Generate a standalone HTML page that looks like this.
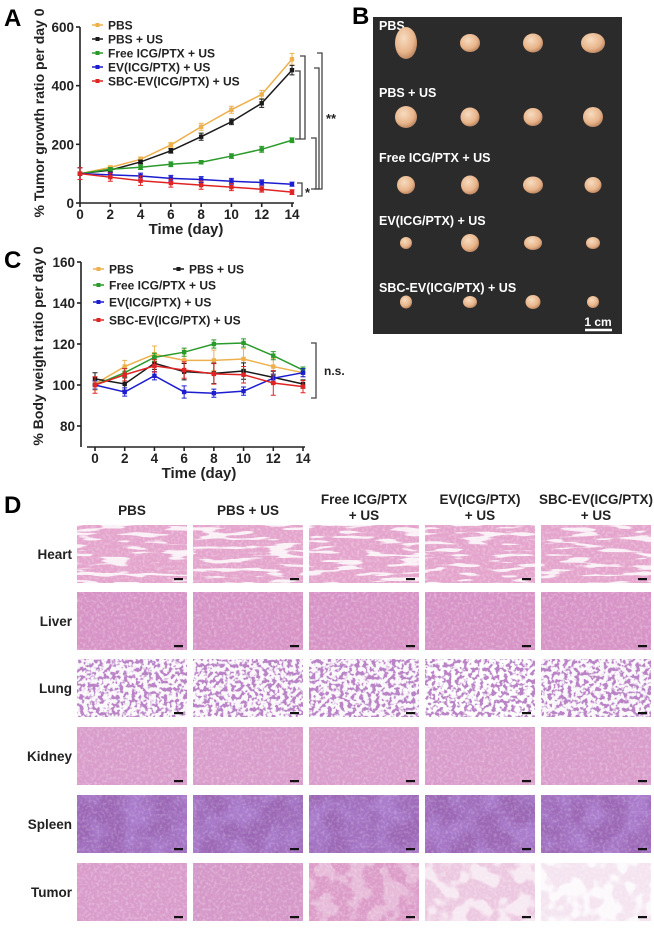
<!DOCTYPE html>
<html><head><meta charset="utf-8">
<style>
body{margin:0;background:#fff;width:654px;height:926px;overflow:hidden;font-family:"Liberation Sans",Arial,sans-serif;}
svg text{font-family:"Liberation Sans",Arial,sans-serif;font-weight:bold;}
</style></head>
<body>
<svg id="fig" width="654" height="926" viewBox="0 0 654 926" xmlns="http://www.w3.org/2000/svg">
<defs>
<filter id="tex" x="0" y="0" width="100%" height="100%">
<feTurbulence type="fractalNoise" baseFrequency="0.35" numOctaves="2" seed="3"/>
<feColorMatrix type="matrix" values="0 0 0 0 1  0 0 0 0 1  0 0 0 0 1  0 0 0 -2.2 1.25"/>
</filter>
<filter id="streak" x="0" y="0" width="100%" height="100%">
<feTurbulence type="fractalNoise" baseFrequency="0.03 0.22" numOctaves="2" seed="11"/>
<feColorMatrix type="matrix" values="0 0 0 0 1  0 0 0 0 1  0 0 0 0 1  0 0 0 -14 6.2"/>
</filter>
<filter id="lungtex" x="0" y="0" width="100%" height="100%">
<feTurbulence type="fractalNoise" baseFrequency="0.25" numOctaves="2" seed="7"/>
<feColorMatrix type="matrix" values="0 0 0 0 1  0 0 0 0 1  0 0 0 0 1  0 0 0 -7 4.3"/>
</filter>
<filter id="spltex" x="0" y="0" width="100%" height="100%">
<feTurbulence type="fractalNoise" baseFrequency="0.04" numOctaves="2" seed="5"/>
<feColorMatrix type="matrix" values="0 0 0 0 0.4  0 0 0 0 0.2  0 0 0 0 0.6  0 0 0 -3 1.9"/>
</filter>
<filter id="tumtex" x="0" y="0" width="100%" height="100%">
<feTurbulence type="fractalNoise" baseFrequency="0.06" numOctaves="2" seed="9"/>
<feColorMatrix type="matrix" values="0 0 0 0 1  0 0 0 0 1  0 0 0 0 1  0 0 0 -8 4.3"/>
</filter>
<radialGradient id="tumorGrad" cx="40%" cy="35%" r="65%">
<stop offset="0" stop-color="#f6dcc0"/><stop offset="0.7" stop-color="#e8b48a"/><stop offset="1" stop-color="#c08a64"/>
</radialGradient>
</defs>
<g id="panelA"></g>
<g id="panelC"></g>
<g id="panelB"></g>
<g id="panelD"></g>
<text x="4" y="26" font-size="24">A</text>
<text x="352" y="24" font-size="24">B</text>
<text x="4" y="268" font-size="24">C</text>
<text x="4" y="513" font-size="24">D</text>
</svg>
<script>
const NS="http://www.w3.org/2000/svg";
const days=[0,2,4,6,8,10,12,14];
const seriesNames=["PBS","PBS + US","Free ICG/PTX + US","EV(ICG/PTX) + US","SBC-EV(ICG/PTX) + US"];
const seriesColors=["#eeb04c","#1a1a1a","#2a9a2a","#1c1cd0","#e02424"];
// Panel A
const growthPBS=[100,121,149,198,260,318,370,490];
const growthPBSUS=[100,112,140,178,226,277,340,453];
const growthFree=[100,115,122,132,139,160,183,214];
const growthEV=[100,96,92,84,80,74,70,64];
const growthSBC=[100,88,76,68,61,54,47,37];
const growthErr=[[20,6,8,8,12,12,14,20],[20,6,6,8,12,10,14,16],[20,6,8,8,6,8,10,8],[20,8,10,10,10,10,9,7],[20,14,16,14,14,12,10,8]];
const growthTicks=[0,200,400,600];
// Panel C
const bwPBS=[100.5,109,115,112,112,112.7,109,106];
const bwPBSUS=[103,100.5,110.6,106.5,105.7,106.8,103.7,100.5];
const bwFree=[100,106,113.5,116,120,120.5,114.3,107.3];
const bwEV=[100,96.6,104.5,96.6,96,97,103.3,106];
const bwSBC=[100,105,109.3,107.3,105.4,105,101,99.2];
const bwErr=[[3,3,4,5,5,5,4,2],[3,3,3,4,5,4,3,2],[2,2,2,2,2,2,2,1.5],[2,2,2,3,2,2,2,2],[4,3,3,4,5,4,6,3]];
const bwTicks=[80,100,120,140,160];
const dayTicks=[0,2,4,6,8,10,12,14];

function el(tag,attrs,parent,txt){const e=document.createElementNS(NS,tag);for(const k in attrs)e.setAttribute(k,attrs[k]);if(txt!==undefined)e.textContent=txt;parent.appendChild(e);return e;}

function drawChart(g,cfg){
  const xs=d=>cfg.x0+(d-cfg.dmin)/(cfg.dmax-cfg.dmin)*(cfg.x1-cfg.x0);
  const ys=v=>cfg.y0-(v-cfg.vmin)/(cfg.vmax-cfg.vmin)*(cfg.y0-cfg.y1);
  let a=el('line',{x1:cfg.yAxisX,y1:ys(cfg.vmax),x2:cfg.yAxisX,y2:cfg.axisBottom,stroke:'#222','stroke-width':1.6},g);
  
  a=el('line',{x1:cfg.xAxisStart,y1:cfg.xAxisY,x2:xs(cfg.dmax)+2,y2:cfg.xAxisY,stroke:'#222','stroke-width':1.6},g);
  
  cfg.yticks.forEach(v=>{
    el('line',{x1:cfg.yAxisX-4,y1:ys(v),x2:cfg.yAxisX,y2:ys(v),stroke:'#222','stroke-width':1.6},g);
    const t=el('text',{x:cfg.yAxisX-6,y:ys(v)+5,'font-size':13.5,'text-anchor':'end',fill:'#222'},g,v);
    
  });
  cfg.xticks.forEach(d=>{
    el('line',{x1:xs(d),y1:cfg.xAxisY,x2:xs(d),y2:cfg.xAxisY+4,stroke:'#222','stroke-width':1.6},g);
    const t=el('text',{x:xs(d),y:cfg.xAxisY+16,'font-size':13.5,'text-anchor':'middle',fill:'#222'},g,d);
    
  });
  let t=el('text',{x:(cfg.x0+cfg.x1)/2,y:cfg.xAxisY+31,'font-size':15,'text-anchor':'middle',fill:'#222'},g,'Time (day)');
  
  t=el('text',{x:0,y:0,'font-size':14,'text-anchor':'middle',fill:'#222',transform:`translate(${cfg.ytx},${cfg.yty}) rotate(-90)`},g,cfg.ytitle);
  
  cfg.series.forEach((vals,si)=>{
    const col=seriesColors[si];
    const sg=el('g',{},g);
    
    
    const pts=days.map((d,i)=>xs(d)+','+ys(vals[i])).join(' ');
    el('polyline',{points:pts,fill:'none',stroke:col,'stroke-width':1.5},sg);
    days.forEach((d,i)=>{
      const e=cfg.err[si][i],x=xs(d);
      el('path',{d:`M${x},${ys(vals[i]+e)}V${ys(vals[i]-e)}M${x-2.5},${ys(vals[i]+e)}h5M${x-2.5},${ys(vals[i]-e)}h5`,stroke:col,'stroke-width':1,fill:'none'},sg);
      const m=el('rect',{x:x-2.2,y:ys(vals[i])-2.2,width:4.4,height:4.4,fill:col},sg);
      
      
    });
  });
  cfg.legend.forEach((L,si)=>{
    const lg=el('g',{},g);
    
    
    el('line',{x1:L[0],y1:L[1],x2:L[0]+11,y2:L[1],stroke:seriesColors[si],'stroke-width':1.5},lg);
    el('rect',{x:L[0]+3.5,y:L[1]-2,width:4,height:4,fill:seriesColors[si]},lg);
    el('text',{x:L[0]+16,y:L[1]+4.5,'font-size':12,fill:'#222'},lg,seriesNames[si]);
  });
}

drawChart(document.getElementById('panelA'),{
  dmin:0,dmax:14,x0:80,x1:292,vmin:0,vmax:600,y0:203,y1:27,yAxisX:80,axisBottom:203,xAxisStart:80,xAxisY:203,
  yticks:growthTicks,xticks:dayTicks,ytitle:'% Tumor growth ratio per day 0',ytx:44,yty:113,
  series:[growthPBS,growthPBSUS,growthFree,growthEV,growthSBC],err:growthErr,
  legend:[[92,25],[92,39],[92,53],[92,67],[92,81]]
});
drawChart(document.getElementById('panelC'),{
  dmin:0,dmax:14,x0:95,x1:303,vmin:80,vmax:160,y0:426,y1:262,yAxisX:81,axisBottom:447,xAxisStart:87,xAxisY:447,
  yticks:bwTicks,xticks:dayTicks,ytitle:'% Body weight ratio per day 0',ytx:43,yty:346,
  series:[bwPBS,bwPBSUS,bwFree,bwEV,bwSBC],err:bwErr,
  legend:[[93,269],[173,269],[93,285],[93,302],[93,320]]
});

(function(){
  const g=document.getElementById('panelA');
  const br=[[300,71,139],[305,56,139],[316,138,189],[319,68,189],[322,53,189],[302,183,196]];
  br.forEach(b=>{
    const p=el('path',{d:`M${b[0]-5},${b[1]}H${b[0]}V${b[2]}H${b[0]-5}`,fill:'none',stroke:'#444','stroke-width':1.3},g);
    
  });
  let t=el('text',{x:326,y:123,'font-size':13,fill:'#222'},g,'**');
  
  t=el('text',{x:305,y:197,'font-size':13,fill:'#222'},g,'*');
  
  const gc=document.getElementById('panelC');
  const p=el('path',{d:'M311,343H316V398H311',fill:'none',stroke:'#444','stroke-width':1.3},gc);
  
  t=el('text',{x:324,y:375,'font-size':12,fill:'#222'},gc,'n.s.');
  
})();

(function(){
  const g=document.getElementById('panelB');
  const bg=el('rect',{x:373,y:17,width:249,height:317,fill:'#2b2b2c'},g);
  
  const labels=[["PBS",25],["PBS + US",92],["Free ICG/PTX + US",157],["EV(ICG/PTX) + US",220],["SBC-EV(ICG/PTX) + US",287]];
  labels.forEach(L=>{const t=el('text',{x:379,y:L[1]+5,'font-size':12.5,fill:'#fff'},g,L[0]);
    });
  const cols=[406,470,533,593];
  const rows=[[43,[[11,16],[10,9],[10,9.5],[12,10]]],[117,[[11,11],[9.5,9.5],[9.5,9],[10,10]]],[185,[[9,9],[9,9.5],[10,8.5],[8.5,8]]],[243,[[6,6],[9,9],[9,7],[7,6]]],[302,[[6,6.5],[7,6],[7.5,7],[6,6]]]];
  rows.forEach(r=>r[1].forEach((s,i)=>{
    const e=el('ellipse',{cx:cols[i],cy:r[0],rx:s[0],ry:s[1],fill:'url(#tumorGrad)'},g);
    
  }));
  el('line',{x1:585,y1:330,x2:612,y2:330,stroke:'#fff','stroke-width':2.5},g);
  const sb=el('text',{x:598,y:326,'font-size':12,fill:'#fff','text-anchor':'middle','font-weight':'normal'},g,'1 cm');
  
})();

(function(){
  const g=document.getElementById('panelD');
  const colX=[77,193,309,425,541];
  const rowY=[525,592,659,727,795,863];
  const heads=[["PBS"],["PBS + US"],["Free ICG/PTX","+ US"],["EV(ICG/PTX)","+ US"],["SBC-EV(ICG/PTX)","+ US"]];
  heads.forEach((h,i)=>{
    const cx=colX[i]+55;
    if(h.length===1){const t=el('text',{x:cx,y:515,'font-size':13.5,'text-anchor':'middle',fill:'#222'},g,h[0]);}
    else{const t=el('text',{x:cx,y:504,'font-size':13.5,'text-anchor':'middle',fill:'#222'},g,h[0]);
      const t2=el('text',{x:cx,y:520,'font-size':13.5,'text-anchor':'middle',fill:'#222'},g,h[1]);}
  });
  const organs=["Heart","Liver","Lung","Kidney","Spleen","Tumor"];
  const base=["#e4a4cc","#d793c6","#ffffff","#d99ccb","#9c68b6","#d69ccb"];
  const tumorCol=["#d99ccb","#d598c8","#dc9cc8","#ecc8e0","#f4e4f0"];
  const tumorTexOp=[0,0,0.3,0.6,0.8];
  organs.forEach((o,r)=>{
    const t=el('text',{x:72,y:rowY[r]+34,'font-size':13.5,'text-anchor':'end',fill:'#222'},g,o);
    
    colX.forEach((x,c)=>{
      const tg=el('g',{},g);
      
      
      let fill=r===5?tumorCol[c]:base[r];
      el('rect',{x:x,y:rowY[r],width:110,height:58,fill:fill},tg);
      if(r===2){
        el('rect',{x:x,y:rowY[r],width:110,height:58,fill:'#b983c6'},tg);
        el('rect',{x:x,y:rowY[r],width:110,height:58,fill:'#fff',filter:'url(#lungtex)',opacity:c===3?1:0.95},tg);
      } else if(r===4){
        el('rect',{x:x,y:rowY[r],width:110,height:58,filter:'url(#spltex)'},tg);
        el('rect',{x:x,y:rowY[r],width:110,height:58,filter:'url(#tex)',opacity:0.25},tg);
      } else {
        el('rect',{x:x,y:rowY[r],width:110,height:58,filter:'url(#tex)',opacity:0.35},tg);
        if(r===0) el('rect',{x:x,y:rowY[r],width:110,height:58,filter:'url(#streak)',opacity:0.85},tg);
        if(r===5&&c>=2) el('rect',{x:x,y:rowY[r],width:110,height:58,filter:'url(#tumtex)',opacity:tumorTexOp[c]},tg);
      }
      el('rect',{x:x+97,y:rowY[r]+53,width:9,height:2.2,fill:'#111'},tg);
    });
  });
})();
</script>
</body></html>
